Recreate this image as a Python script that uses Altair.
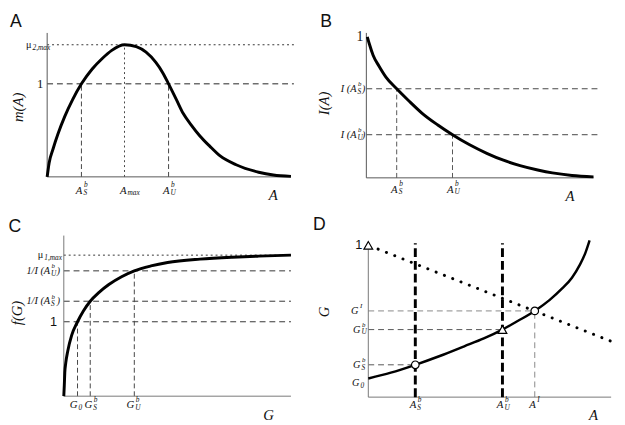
import altair as alt
import pandas as pd

SERIF = "'Liberation Serif', 'Times New Roman', Times, serif"
SANS = "'Liberation Sans', Arial, Helvetica, sans-serif"

# ---------------- data ----------------
# Panel A : m(A)
a_curve_x = [0, 0.08, 0.24, 0.44, 0.72, 1.04, 1.4, 1.84, 2.24, 2.64, 3.16, 3.64, 4.04, 4.44,
             4.72, 4.96, 5.28, 5.56, 5.88, 6.24, 6.64, 7.04, 7.72, 8.64, 9.24, 9.96]
a_curve_y = [0, 0.15, 0.30, 0.46, 0.65, 0.83, 1.0, 1.16, 1.27, 1.36, 1.42, 1.40, 1.34, 1.23,
             1.12, 1.0, 0.83, 0.68, 0.56, 0.44, 0.33, 0.23, 0.13, 0.05, 0.02, 0.005]
a_ticks = {"AS": 1.4, "Amax": 3.16, "AU": 4.96}
a_levels = {"mu2max": 1.42, "one": 1.0}
a_axis_end = (9.96, 1.547)
a_ref_end = 10.08

# Panel B : I(A)
b_curve_x = [0.04, 0.12, 0.28, 0.52, 0.8, 1.24, 1.72, 2.28, 2.92, 3.52, 4.2, 4.92, 5.6,
             6.28, 7.0, 7.6, 8.4, 9.28]
b_curve_y = [1.0, 0.951, 0.868, 0.792, 0.715, 0.632, 0.549, 0.458, 0.375, 0.306, 0.236,
             0.174, 0.125, 0.087, 0.056, 0.035, 0.017, 0.007]
b_ticks = {"AS": 1.24, "AU": 3.52}
b_levels = {"IS": 0.632, "IU": 0.306, "one": 1.0}
b_axis_end = (9.28, 1.028)
b_ref_end = 9.48

# Panel C : f(G)
c_curve_x = [0, 0.02, 0.04, 0.08, 0.16, 0.32, 0.56, 0.8, 1.08, 1.44, 1.84, 2.36, 2.88, 3.56,
             4.24, 5.56, 6.88, 7.96, 9.28]
c_curve_y = [0, 0.145, 0.316, 0.447, 0.605, 0.816, 1.0, 1.145, 1.276, 1.395, 1.5, 1.605,
             1.684, 1.75, 1.796, 1.842, 1.868, 1.882, 1.895]
c_ticks = {"G0": 0.56, "GS": 1.08, "GU": 2.88}
c_levels = {"mu1max": 1.895, "invIU": 1.684, "invIS": 1.276, "one": 1.0}
c_axis_end = (9.28, 2.158)
c_ref_end = 9.28

# Panel D : G vs A
d_curve_x = [0, 0.92, 1.92, 2.92, 3.92, 4.72, 5.48, 6.12, 6.8, 7.4, 7.92, 8.32, 8.64, 8.88, 9.04]
d_curve_y = [0.123, 0.161, 0.213, 0.271, 0.335, 0.387, 0.445, 0.503, 0.568, 0.639, 0.716,
             0.787, 0.871, 0.955, 1.032]
d_dotted_x = [0.4, 9.92]
d_dotted_y = [0.975, 0.368]
d_ticks = {"AS": 1.92, "AU": 5.48, "AI": 6.8}
d_levels = {"GI": 0.568, "GU": 0.445, "GS": 0.213, "G0": 0.123, "one": 1.0}
d_axis_end = (9.92, 1.013)


# ---------------- helpers ----------------
class Panel:
    def __init__(self, xdom, ydom, w, h):
        self.xdom, self.ydom, self.w, self.h = xdom, ydom, w, h
        self.layers = []

    def X(self, f="x"):
        return alt.X(f"{f}:Q", scale=alt.Scale(domain=self.xdom, nice=False, zero=False), axis=None)

    def Y(self, f="y"):
        return alt.Y(f"{f}:Q", scale=alt.Scale(domain=self.ydom, nice=False, zero=False), axis=None)

    def line(self, xs, ys, **mk):
        df = pd.DataFrame({"x": xs, "y": ys, "o": list(range(len(xs)))})
        self.layers.append(alt.Chart(df).mark_line(**mk).encode(x=self.X(), y=self.Y(), order="o:Q"))

    def seg(self, x1, y1, x2, y2, **mk):
        df = pd.DataFrame({"x": [x1], "y": [y1], "x2": [x2], "y2": [y2]})
        self.layers.append(alt.Chart(df).mark_rule(**mk).encode(
            x=self.X(), y=self.Y(), x2=alt.X2("x2"), y2=alt.Y2("y2")))

    def point(self, x, y, **mk):
        df = pd.DataFrame({"x": [x], "y": [y]})
        self.layers.append(alt.Chart(df).mark_point(**mk).encode(x=self.X(), y=self.Y()))

    def text(self, x, y, s, size=11, font=SERIF, italic=True, align="center", dx=0, dy=0,
             angle=0, baseline="middle", color="#111111"):
        df = pd.DataFrame({"x": [x], "y": [y], "t": [s]})
        kw = dict(fontSize=size, font=font, align=align, dx=dx, dy=dy, baseline=baseline,
                  color=color, angle=angle)
        if italic:
            kw["fontStyle"] = "italic"
        self.layers.append(alt.Chart(df).mark_text(**kw).encode(x=self.X(), y=self.Y(), text="t:N"))

    def xsym(self, x, y, base, sub=None, sup=None, dy=0, bdx=1):
        self.text(x, y, base, align="right", dx=bdx, dy=dy)
        if sup:
            self.text(x, y, sup, size=7.5, align="left", dx=bdx + 1.5, dy=dy - 5.5)
        if sub:
            self.text(x, y, sub, size=7.5, align="left", dx=bdx + 1, dy=dy + 3)

    def ysym(self, x, y, base, sub=None, sup=None, base_dx=-8, suffix=None, suffix_dx=0,
             base_italic=True):
        if suffix:
            self.text(x, y, suffix, size=10, align="right", dx=suffix_dx)
        self.text(x, y, base, size=10.5, align="right", dx=base_dx, italic=base_italic)
        if sup:
            self.text(x, y, sup, size=7, align="left", dx=base_dx + 1.5, dy=-4.5)
        if sub:
            self.text(x, y, sub, size=7.5, align="left", dx=base_dx + 1, dy=3)

    def axes(self, xend, yend, color="#555555"):
        self.seg(0, 0, xend, 0, color=color, strokeWidth=1)
        self.seg(0, 0, 0, yend, color=color, strokeWidth=1)

    def chart(self):
        return alt.layer(*self.layers).properties(width=self.w, height=self.h)


DASH = [6, 4]
DOT = [2, 3]

# ---------------- Panel A ----------------
pA = Panel([-1.44, 10.64], [-0.4, 1.726], 302, 202)
pA.seg(0, a_levels["mu2max"], a_ref_end, a_levels["mu2max"], color="#333333", strokeWidth=1, strokeDash=DOT)
pA.seg(0, a_levels["one"], a_ref_end, a_levels["one"], color="#222222", strokeWidth=1, strokeDash=DASH)
pA.seg(a_ticks["Amax"], 0, a_ticks["Amax"], a_levels["mu2max"], color="#444444", strokeWidth=1, strokeDash=DOT)
pA.seg(a_ticks["AS"], 0, a_ticks["AS"], a_levels["one"], color="#444444", strokeWidth=1, strokeDash=[5, 3])
pA.seg(a_ticks["AU"], 0, a_ticks["AU"], a_levels["one"], color="#444444", strokeWidth=1, strokeDash=[5, 3])
pA.axes(*a_axis_end)
pA.line(a_curve_x, a_curve_y, color="#000000", strokeWidth=3, interpolate="monotone")
pA.xsym(a_ticks["AS"], 0, "A", sub="S", sup="b", dy=14)
pA.xsym(a_ticks["Amax"], 0, "A", sub="max", dy=14, bdx=2)
pA.xsym(a_ticks["AU"], 0, "A", sub="U", sup="b", dy=14)
pA.ysym(0, a_levels["mu2max"], "μ", sub="2,max", base_dx=-16, base_italic=False)
pA.text(0, a_levels["one"], "1", size=13, italic=False, align="right", dx=-4)
pA.text(9.24, -0.2, "A", size=15)
pA.text(-1.2, 0.747, "m(A)", size=15, angle=270)
pA.text(-1.28, 1.663, "A", size=18, font=SANS, italic=False)

# ---------------- Panel B ----------------
pB = Panel([-2.4, 10.04], [-0.257, 1.146], 311, 202)
for k in ["IS", "IU"]:
    pB.seg(0, b_levels[k], b_ref_end, b_levels[k], color="#444444", strokeWidth=1, strokeDash=DASH)
pB.seg(b_ticks["AS"], 0, b_ticks["AS"], b_levels["IS"], color="#555555", strokeWidth=1, strokeDash=[5, 3])
pB.seg(b_ticks["AU"], 0, b_ticks["AU"], b_levels["IU"], color="#555555", strokeWidth=1, strokeDash=[5, 3])
pB.axes(*b_axis_end)
pB.line(b_curve_x, b_curve_y, color="#000000", strokeWidth=3, interpolate="monotone")
pB.xsym(b_ticks["AS"], 0, "A", sub="S", sup="b", dy=12)
pB.xsym(b_ticks["AU"], 0, "A", sub="U", sup="b", dy=12)
pB.ysym(0, b_levels["IS"], "I (A", sub="S", sup="b", base_dx=-10, suffix=")", suffix_dx=-1)
pB.ysym(0, b_levels["IU"], "I (A", sub="U", sup="b", base_dx=-10, suffix=")", suffix_dx=-1)
pB.text(0, b_levels["one"], "1", size=14, italic=False, align="right", dx=-3)
pB.text(8.32, -0.132, "A", size=15)
pB.text(-1.72, 0.528, "I(A)", size=15, angle=270)
pB.text(-1.64, 1.104, "B", size=18, font=SANS, italic=False)

# ---------------- Panel C ----------------
pC = Panel([-2.12, 9.96], [-0.329, 2.447], 302, 211)
pC.seg(0, c_levels["mu1max"], c_ref_end, c_levels["mu1max"], color="#333333", strokeWidth=1, strokeDash=DOT)
for k in ["invIU", "invIS", "one"]:
    pC.seg(0, c_levels[k], c_ref_end, c_levels[k], color="#333333", strokeWidth=1, strokeDash=DASH)
pC.seg(c_ticks["G0"], 0, c_ticks["G0"], c_levels["one"], color="#444444", strokeWidth=1, strokeDash=[5, 3])
pC.seg(c_ticks["GS"], 0, c_ticks["GS"], c_levels["invIS"], color="#444444", strokeWidth=1, strokeDash=[5, 3])
pC.seg(c_ticks["GU"], 0, c_ticks["GU"], c_levels["invIU"], color="#444444", strokeWidth=1, strokeDash=[5, 3])
pC.axes(*c_axis_end, color="#777777")
pC.line(c_curve_x, c_curve_y, color="#000000", strokeWidth=3, interpolate="monotone")
pC.xsym(c_ticks["G0"], 0, "G", sub="0", dy=9, bdx=0)
pC.xsym(c_ticks["GS"], 0, "G", sub="S", sup="b", dy=9, bdx=2)
pC.xsym(c_ticks["GU"], 0, "G", sub="U", sup="b", dy=9, bdx=0)
pC.ysym(0, c_levels["mu1max"], "μ", sub="1,max", base_dx=-21, base_italic=False)
pC.ysym(0, c_levels["invIU"], "1/I (A", sub="U", sup="b", base_dx=-14, suffix=")", suffix_dx=-4)
pC.ysym(0, c_levels["invIS"], "1/I (A", sub="S", sup="b", base_dx=-14, suffix=")", suffix_dx=-4)
pC.text(0, c_levels["one"], "1", size=13, font=SANS, italic=False, align="right", dx=-7)
pC.text(8.36, -0.25, "G", size=15)
pC.text(-1.92, 1.118, "f(G)", size=15, angle=270)
pC.text(-2.0, 2.276, "C", size=18, font=SANS, italic=False)

# ---------------- Panel D ----------------
pD = Panel([-2.48, 9.96], [-0.155, 1.206], 311, 211)
pD.seg(0, d_levels["GI"], d_ticks["AI"], d_levels["GI"], color="#888888", strokeWidth=1, strokeDash=DASH)
pD.seg(0, d_levels["GU"], d_ticks["AU"], d_levels["GU"], color="#555555", strokeWidth=1, strokeDash=DASH)
pD.seg(0, d_levels["GS"], d_ticks["AS"], d_levels["GS"], color="#555555", strokeWidth=1, strokeDash=DASH)
pD.seg(d_ticks["AI"], 0, d_ticks["AI"], d_levels["GI"], color="#888888", strokeWidth=1, strokeDash=DASH)
pD.axes(*d_axis_end, color="#777777")
pD.line(d_dotted_x, d_dotted_y, color="#000000", strokeWidth=3, strokeDash=[0.1, 9], strokeCap="round")
pD.seg(d_ticks["AS"], 0, d_ticks["AS"], d_axis_end[1], color="#000000", strokeWidth=3, strokeDash=[9, 4])
pD.seg(d_ticks["AU"], 0, d_ticks["AU"], d_axis_end[1], color="#000000", strokeWidth=3, strokeDash=[9, 4])
pD.line(d_curve_x, d_curve_y, color="#000000", strokeWidth=2.5, interpolate="monotone")
pD.point(d_ticks["AS"], d_levels["GS"], shape="circle", filled=True, fill="white", stroke="black", strokeWidth=1.2, size=60, opacity=1)
pD.point(d_ticks["AI"], d_levels["GI"], shape="circle", filled=True, fill="white", stroke="black", strokeWidth=1.2, size=60, opacity=1)
pD.point(d_ticks["AU"], d_levels["GU"], shape="triangle-up", filled=True, fill="white", stroke="black", strokeWidth=1.2, size=80, opacity=1)
pD.point(0, d_levels["one"], shape="triangle-up", filled=True, fill="white", stroke="black", strokeWidth=1.2, size=80, opacity=1)
pD.xsym(d_ticks["AS"], 0, "A", sub="S", sup="b", dy=8)
pD.xsym(d_ticks["AU"], 0, "A", sub="U", sup="b", dy=8)
pD.xsym(d_ticks["AI"], 0, "A", sup="I", dy=8)
pD.ysym(0, d_levels["GI"], "G", sup="I", base_dx=-10)
pD.ysym(0, d_levels["GU"], "G", sub="U", sup="b", base_dx=-8)
pD.ysym(0, d_levels["GS"], "G", sub="S", sup="b", base_dx=-8)
pD.ysym(0, 0.09, "G", sub="0", base_dx=-9)
pD.text(0, d_levels["one"], "1", size=13, font=SANS, italic=False, align="right", dx=-6)
pD.text(9.2, -0.116, "A", size=15)
pD.text(-1.8, 0.561, "G", size=15, angle=270)
pD.text(-2.0, 1.135, "D", size=18, font=SANS, italic=False)

chart = alt.concat(
    pA.chart(), pB.chart(), pC.chart(), pD.chart(),
    columns=2, spacing=0, bounds="flush", align="each"
).properties(padding=0, background="white").configure_view(stroke=None)

chart.save("out.html", embed_options={"renderer": "svg", "actions": False})
